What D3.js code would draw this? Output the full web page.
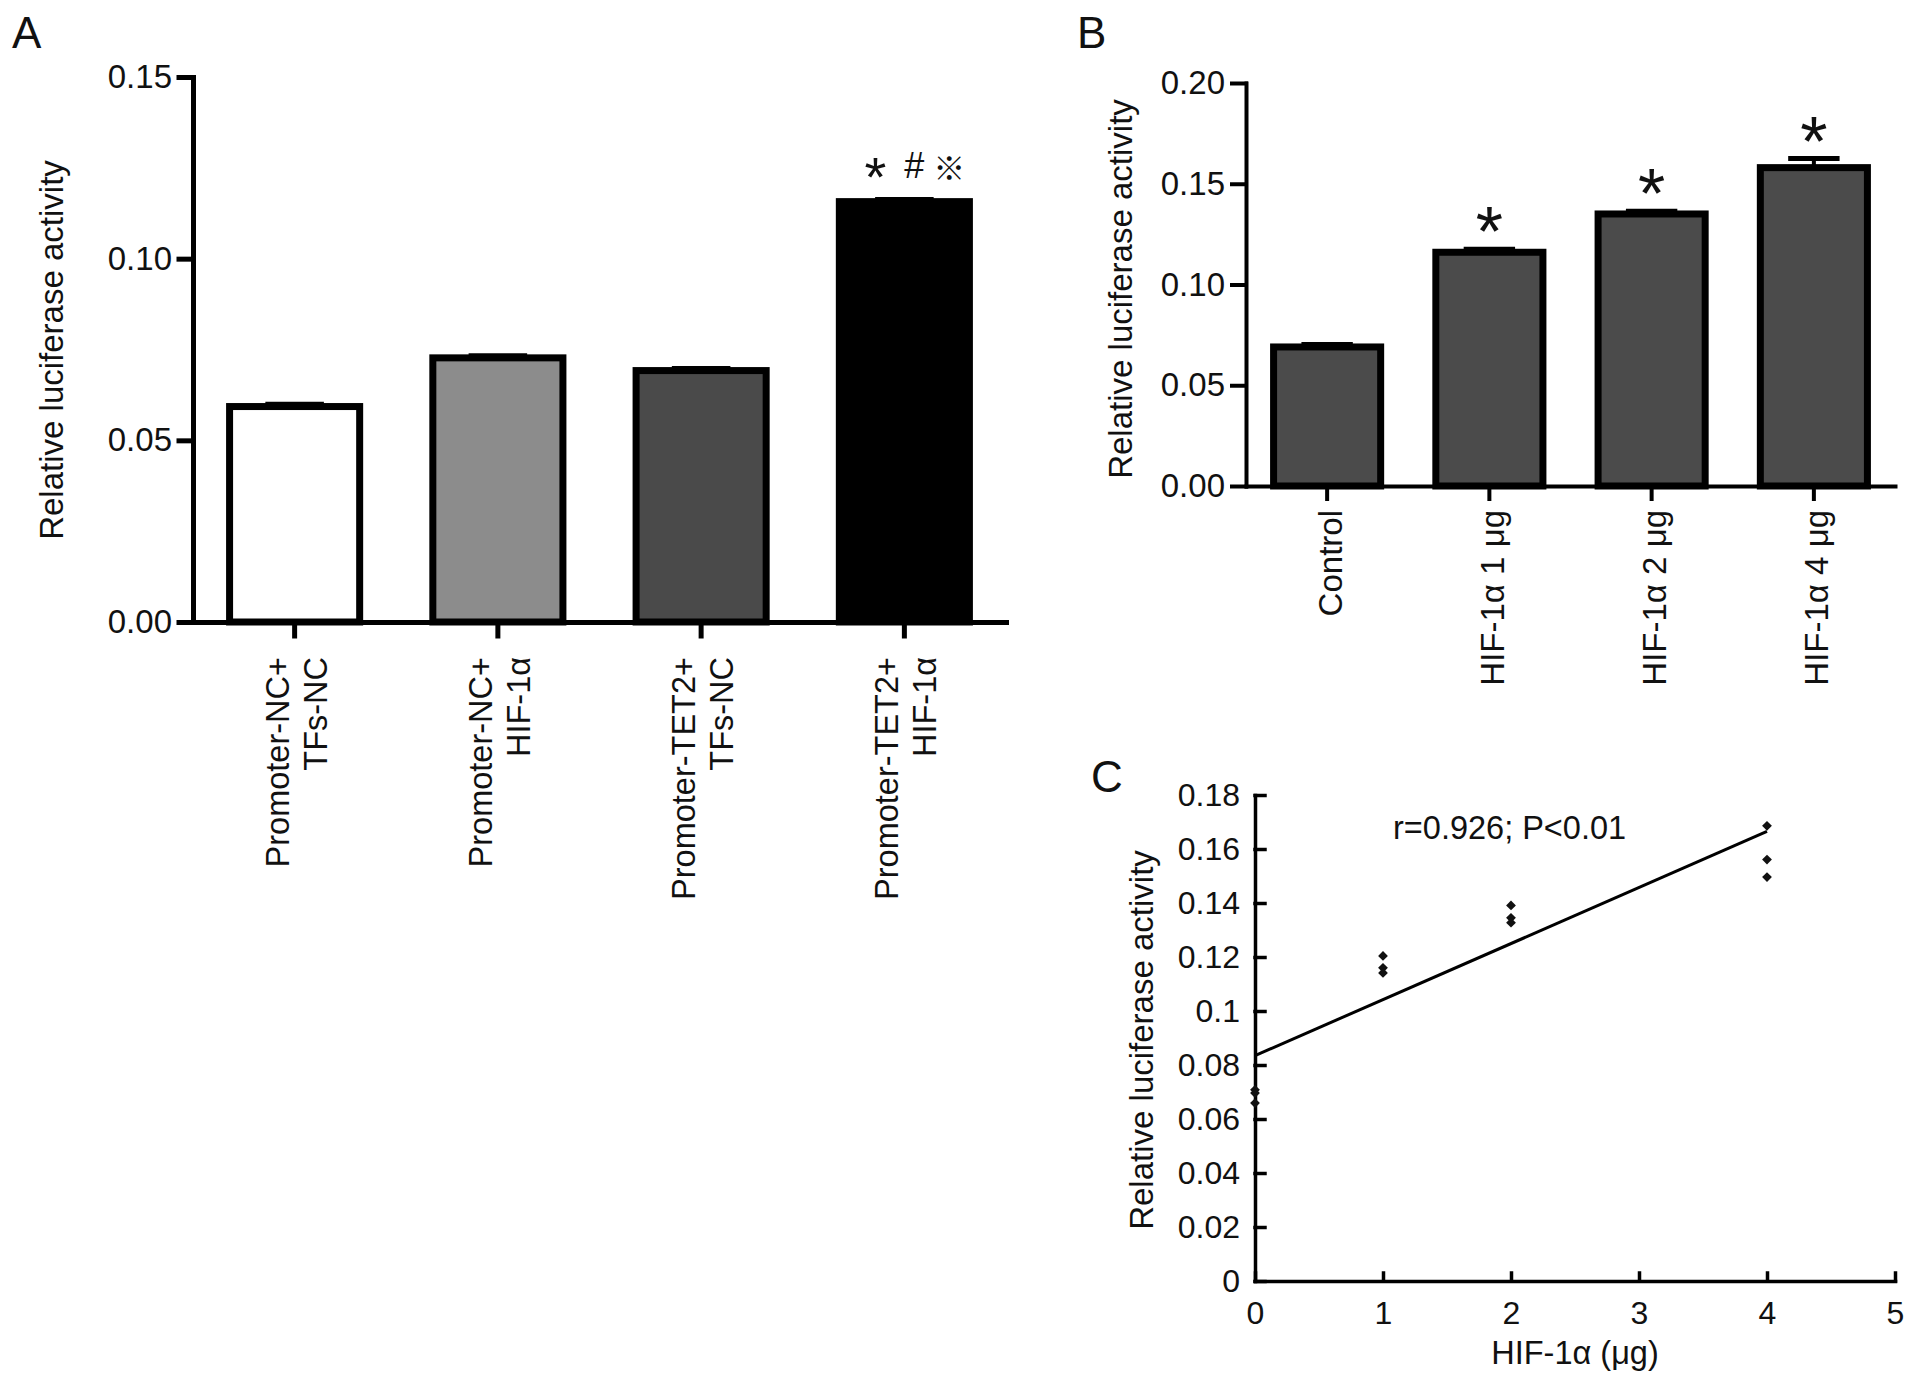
<!DOCTYPE html>
<html>
<head>
<meta charset="UTF-8">
<title>Relative luciferase activity</title>
<script src="https://cdn.jsdelivr.net/npm/d3@7"></script>
<style>
  body { margin: 0; background: #fff; }
  svg text { font-family: "Liberation Sans", Arial, Helvetica, sans-serif; fill: #111; }
</style>
</head>
<body>
<svg id="fig" width="1913" height="1387"></svg>
<script>
// ---- panel A data
var groupsA = [["Promoter-NC+", "TFs-NC"], ["Promoter-NC+", "HIF-1α"], ["Promoter-TET2+", "TFs-NC"], ["Promoter-TET2+", "HIF-1α"]];
var valuesA = [0.0593, 0.0727, 0.0692, 0.1157];
var errorsA = [0.0006, 0.0006, 0.0006, 0.0006];
var ticksA = [0, 0.05, 0.10, 0.15];
var marksA = ["*", "#", "※"];

// ---- panel B data
var groupsB = ["Control", "HIF-1α 1 μg", "HIF-1α 2 μg", "HIF-1α 4 μg"];
var valuesB = [0.069, 0.116, 0.135, 0.158];
var errorsB = [0.0012, 0.0015, 0.0014, 0.0045];
var ticksB = [0, 0.05, 0.10, 0.15, 0.20];
var starsB = ["", "*", "*", "*"];

// ---- panel C data
var doseC = [0, 0, 0, 1, 1, 1, 2, 2, 2, 4, 4, 4];
var activityC = [0.0708, 0.0696, 0.0659, 0.1204, 0.1160, 0.1141, 0.1391, 0.1345, 0.1327, 0.1686, 0.1561, 0.1496];
var ticksCx = [0, 1, 2, 3, 4, 5];
var ticksCy = [0, 0.02, 0.04, 0.06, 0.08, 0.10, 0.12, 0.14, 0.16, 0.18];
var noteC = "r=0.926; P<0.01";

var fillsA = ["#ffffff", "#8c8c8c", "#4a4a4a", "#000000"];
var fillB = "#4b4b4b";
var yTitle = "Relative luciferase activity";

var svg = d3.select("#fig");

function styleAxis(g, w, fs) {
  g.selectAll("path, line").attr("stroke", "#000").attr("stroke-width", w).attr("stroke-linecap", "square");
  g.selectAll("text").attr("font-size", fs).attr("fill", "#111");
}

function panelLetter(t, x, y, fs) {
  svg.append("text").attr("x", x).attr("y", y).attr("font-size", fs).text(t);
}

// ================= A =================
var xA = d3.scaleBand().domain(d3.range(valuesA.length)).range([193, 1006]).paddingInner(0.36).paddingOuter(0.18);
var yA = d3.scaleLinear().domain([0, 0.15]).range([622, 77]);
var gA = svg.append("g");

gA.selectAll("rect.bar").data(valuesA).enter().append("rect")
  .attr("class", "bar")
  .attr("x", function (d, i) { return xA(i); })
  .attr("width", xA.bandwidth())
  .attr("y", function (d) { return yA(d); })
  .attr("height", function (d) { return yA(0) - yA(d); })
  .attr("fill", function (d, i) { return fillsA[i]; })
  .attr("stroke", "#000").attr("stroke-width", 7);

// error bars
valuesA.forEach(function (v, i) {
  var cx = xA(i) + xA.bandwidth() / 2, cw = xA.bandwidth() * 0.45;
  gA.append("line").attr("x1", cx).attr("x2", cx).attr("y1", yA(v)).attr("y2", yA(v + errorsA[i]))
    .attr("stroke", "#000").attr("stroke-width", 4);
  gA.append("line").attr("x1", cx - cw / 2).attr("x2", cx + cw / 2).attr("y1", yA(v + errorsA[i])).attr("y2", yA(v + errorsA[i]))
    .attr("stroke", "#000").attr("stroke-width", 5);
});

var axYA = gA.append("g").attr("transform", "translate(193,0)")
  .call(d3.axisLeft(yA).tickValues(ticksA).tickFormat(d3.format(".2f")).tickSizeInner(14).tickSizeOuter(0).tickPadding(7));
styleAxis(axYA, 5, 33);

var axXA = gA.append("g").attr("transform", "translate(0,622)")
  .call(d3.axisBottom(xA).tickSizeInner(14).tickSizeOuter(0).tickFormat(""));
styleAxis(axXA, 5, 33);

groupsA.forEach(function (lines, i) {
  var cx = xA(i) + xA.bandwidth() / 2;
  lines.forEach(function (t, j) {
    gA.append("text")
      .attr("transform", "translate(" + (cx - 17 + j * 38) + ",657) rotate(-90)")
      .attr("text-anchor", "end").attr("dominant-baseline", "central")
      .attr("font-size", 32.5).text(t);
  });
});

// significance marks over last bar
var lastA = valuesA.length - 1;
var cxLast = xA(lastA) + xA.bandwidth() / 2;
var yMark = 166;
var markDx = [-29, 10, 45];
var markFs = [56, 36, 32];
var markDy = [30, 12, 0];
marksA.forEach(function (m, k) {
  gA.append("text")
    .attr("x", cxLast + markDx[k])
    .attr("y", yMark + markDy[k])
    .attr("text-anchor", "middle")
    .attr("dominant-baseline", k === 2 ? "central" : "auto")
    .attr("font-size", markFs[k])
    .style("font-family", k === 2 ? "'Noto Sans CJK SC', 'DejaVu Sans', sans-serif" : null)
    .text(m);
});

gA.append("text").attr("transform", "translate(51,350) rotate(-90)")
  .attr("text-anchor", "middle").attr("dominant-baseline", "central")
  .attr("font-size", 33).text(yTitle);

panelLetter("A", 12, 48, 44);

// ================= B =================
var xB = d3.scaleBand().domain(d3.range(valuesB.length)).range([1246, 1895]).paddingInner(0.34).paddingOuter(0.17);
var yB = d3.scaleLinear().domain([0, 0.20]).range([486, 83]);
var gB = svg.append("g");

gB.selectAll("rect.bar").data(valuesB).enter().append("rect")
  .attr("class", "bar")
  .attr("x", function (d, i) { return xB(i); })
  .attr("width", xB.bandwidth())
  .attr("y", function (d) { return yB(d); })
  .attr("height", function (d) { return yB(0) - yB(d); })
  .attr("fill", fillB)
  .attr("stroke", "#000").attr("stroke-width", 7);

valuesB.forEach(function (v, i) {
  var cx = xB(i) + xB.bandwidth() / 2, cw = xB.bandwidth() * 0.48;
  var top = yB(v + errorsB[i]);
  gB.append("line").attr("x1", cx).attr("x2", cx).attr("y1", yB(v)).attr("y2", top)
    .attr("stroke", "#000").attr("stroke-width", 4);
  gB.append("line").attr("x1", cx - cw / 2).attr("x2", cx + cw / 2).attr("y1", top).attr("y2", top)
    .attr("stroke", "#000").attr("stroke-width", 5);
  if (starsB[i]) {
    gB.append("text").attr("x", cx).attr("y", top + 7).attr("text-anchor", "middle")
      .attr("font-size", 70).text(starsB[i]);
  }
});

var axYB = gB.append("g").attr("transform", "translate(1246,0)")
  .call(d3.axisLeft(yB).tickValues(ticksB).tickFormat(d3.format(".2f")).tickSizeInner(14).tickSizeOuter(0).tickPadding(7));
styleAxis(axYB, 4, 33);

var axXB = gB.append("g").attr("transform", "translate(0,486)")
  .call(d3.axisBottom(xB).tickSizeInner(13).tickSizeOuter(0).tickFormat(""));
styleAxis(axXB, 4, 33);

groupsB.forEach(function (t, i) {
  var cx = xB(i) + xB.bandwidth() / 2;
  gB.append("text")
    .attr("transform", "translate(" + (cx + 3) + ",510) rotate(-90)")
    .attr("text-anchor", "end").attr("dominant-baseline", "central")
    .attr("font-size", 33).text(t);
});

gB.append("text").attr("transform", "translate(1120,289) rotate(-90)")
  .attr("text-anchor", "middle").attr("dominant-baseline", "central")
  .attr("font-size", 33).text(yTitle);

panelLetter("B", 1077, 48, 44);

// ================= C =================
var xC = d3.scaleLinear().domain([0, 5]).range([1255, 1895]);
var yC = d3.scaleLinear().domain([0, 0.18]).range([1281, 795]);
var gC = svg.append("g");

var axYC = gC.append("g").attr("transform", "translate(1255,0)")
  .call(d3.axisLeft(yC).tickValues(ticksCy).tickFormat(function (d) { return String(+d.toFixed(2)); })
    .tickSizeInner(-10).tickSizeOuter(0).tickPadding(15));
styleAxis(axYC, 3.5, 32);

var axXC = gC.append("g").attr("transform", "translate(0,1281)")
  .call(d3.axisBottom(xC).tickValues(ticksCx).tickFormat(d3.format("d"))
    .tickSizeInner(-8).tickSizeOuter(0).tickPadding(20));
styleAxis(axXC, 3.5, 32);

// least-squares fit from the points
var mx = d3.mean(doseC), my = d3.mean(activityC);
var sxy = d3.sum(doseC, function (x, i) { return (x - mx) * (activityC[i] - my); });
var sxx = d3.sum(doseC, function (x) { return (x - mx) * (x - mx); });
var slope = sxy / sxx, icpt = my - slope * mx;
var xMax = d3.max(doseC);
gC.append("line")
  .attr("x1", xC(0)).attr("y1", yC(icpt))
  .attr("x2", xC(xMax)).attr("y2", yC(icpt + slope * xMax))
  .attr("stroke", "#000").attr("stroke-width", 3);

var diamond = d3.symbol().type(d3.symbolSquare).size(48);
gC.selectAll("path.pt").data(doseC).enter().append("path")
  .attr("class", "pt")
  .attr("d", diamond)
  .attr("transform", function (d, i) { return "translate(" + xC(d) + "," + yC(activityC[i]) + ") rotate(45)"; })
  .attr("fill", "#111");

gC.append("text").attr("x", 1393).attr("y", 839).attr("font-size", 32.5).text(noteC);

gC.append("text").attr("x", 1575).attr("y", 1364).attr("text-anchor", "middle")
  .attr("font-size", 32.5).text("HIF-1α (μg)");

gC.append("text").attr("transform", "translate(1141,1040) rotate(-90)")
  .attr("text-anchor", "middle").attr("dominant-baseline", "central")
  .attr("font-size", 33).text(yTitle);

panelLetter("C", 1091, 792, 44);
</script>
</body>
</html>
